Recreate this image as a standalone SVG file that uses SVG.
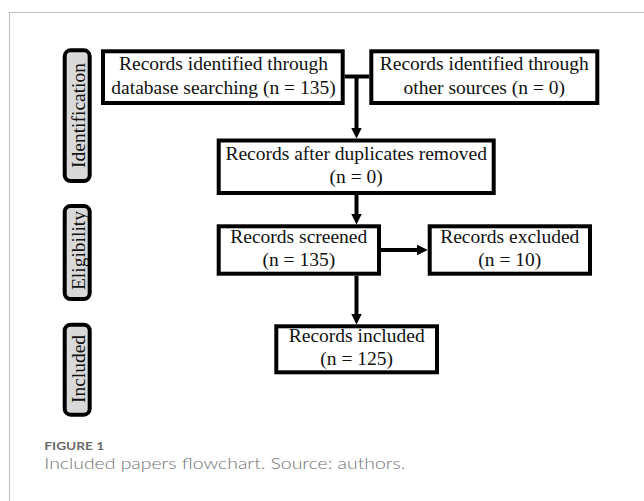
<svg xmlns="http://www.w3.org/2000/svg" width="644" height="501" viewBox="0 0 644 501">
  <style>
    .box { fill: #ffffff; stroke: #000000; stroke-width: 4; }
    .stage { fill: #d9d9d9; stroke: #000000; stroke-width: 4; }
    .t { font-family: "Liberation Serif", "Times New Roman", serif; font-size: 19.5px; fill: #111111; text-anchor: middle; }
    .wire { fill: none; stroke: #000000; stroke-width: 4; }
    .cap1 { font-family: Lato, "Open Sans", sans-serif; font-size: 12px; font-weight: bold; fill: #6b6b6b; }
    .cap2 { font-family: Lato, "Open Sans", sans-serif; font-size: 16px; font-weight: 300; fill: #737373; }
  </style>
  <defs>
    <!-- arrowhead: tip sits 8 units beyond the end of the line -->
    <marker id="arrow" viewBox="0 0 11 11" refX="3" refY="5.5" markerUnits="userSpaceOnUse" markerWidth="11" markerHeight="11" orient="auto">
      <path d="M0,0 L11,5.5 L0,11 Z" fill="#000000"/>
    </marker>
  </defs>

  <rect width="644" height="501" fill="#ffffff"/>
  <!-- figure frame -->
  <path d="M9.5,501 V12.5 H644" fill="none" stroke="#c2c2c2" stroke-width="1.2"/>

  <!-- stage labels -->
  <g id="stage-identification">
    <rect class="stage" x="64.7" y="50.3" width="25" height="130.7" rx="6"/>
    <text class="t" transform="translate(84.5,115.5) rotate(-90)">Identification</text>
  </g>
  <g id="stage-eligibility">
    <rect class="stage" x="64.7" y="206" width="25" height="93" rx="6"/>
    <text class="t" transform="translate(84.5,250.5) rotate(-90)">Eligibility</text>
  </g>
  <g id="stage-included">
    <rect class="stage" x="64.7" y="324.7" width="25" height="90" rx="6"/>
    <text class="t" transform="translate(84.5,369) rotate(-90)">Included</text>
  </g>

  <!-- connectors -->
  <g id="connectors">
    <path class="wire" d="M344.7,76.5 H369.3"/>
    <path class="wire" d="M356.5,76.5 V130.5" marker-end="url(#arrow)"/>
    <path class="wire" d="M356.5,195 V216.5" marker-end="url(#arrow)"/>
    <path class="wire" d="M381,250 H419.7" marker-end="url(#arrow)"/>
    <path class="wire" d="M356.5,275.7 V316.5" marker-end="url(#arrow)"/>
  </g>

  <!-- process boxes -->
  <g id="database-records">
    <rect class="box" x="103" y="51.3" width="239.7" height="51.7"/>
    <text class="t" x="223.5" y="70">Records identified through</text>
    <text class="t" x="223.5" y="93.5">database searching (n = 135)</text>
  </g>
  <g id="other-records">
    <rect class="box" x="371.3" y="51.3" width="226" height="51.7"/>
    <text class="t" x="484.3" y="70">Records identified through</text>
    <text class="t" x="484.3" y="93.5">other sources (n = 0)</text>
  </g>
  <g id="deduplicated">
    <rect class="box" x="218.7" y="140.5" width="275" height="52.5"/>
    <text class="t" x="356.2" y="160">Records after duplicates removed</text>
    <text class="t" x="356.2" y="183">(n = 0)</text>
  </g>
  <g id="screened">
    <rect class="box" x="218.7" y="226.3" width="160.3" height="47.4"/>
    <text class="t" x="298.8" y="242.5">Records screened</text>
    <text class="t" x="298.8" y="266">(n = 135)</text>
  </g>
  <g id="excluded">
    <rect class="box" x="429.7" y="226.3" width="160.3" height="47.4"/>
    <text class="t" x="509.8" y="242.5">Records excluded</text>
    <text class="t" x="509.8" y="266">(n = 10)</text>
  </g>
  <g id="included">
    <rect class="box" x="276.3" y="326.3" width="160.7" height="46"/>
    <text class="t" x="356.7" y="342">Records included</text>
    <text class="t" x="356.7" y="365">(n = 125)</text>
  </g>

  <!-- caption -->
  <text class="cap1" x="44.3" y="449.5" textLength="60" lengthAdjust="spacingAndGlyphs">FIGURE 1</text>
  <text class="cap2" x="44.3" y="468.5" textLength="361" lengthAdjust="spacingAndGlyphs">Included papers flowchart. Source: authors.</text>
</svg>
